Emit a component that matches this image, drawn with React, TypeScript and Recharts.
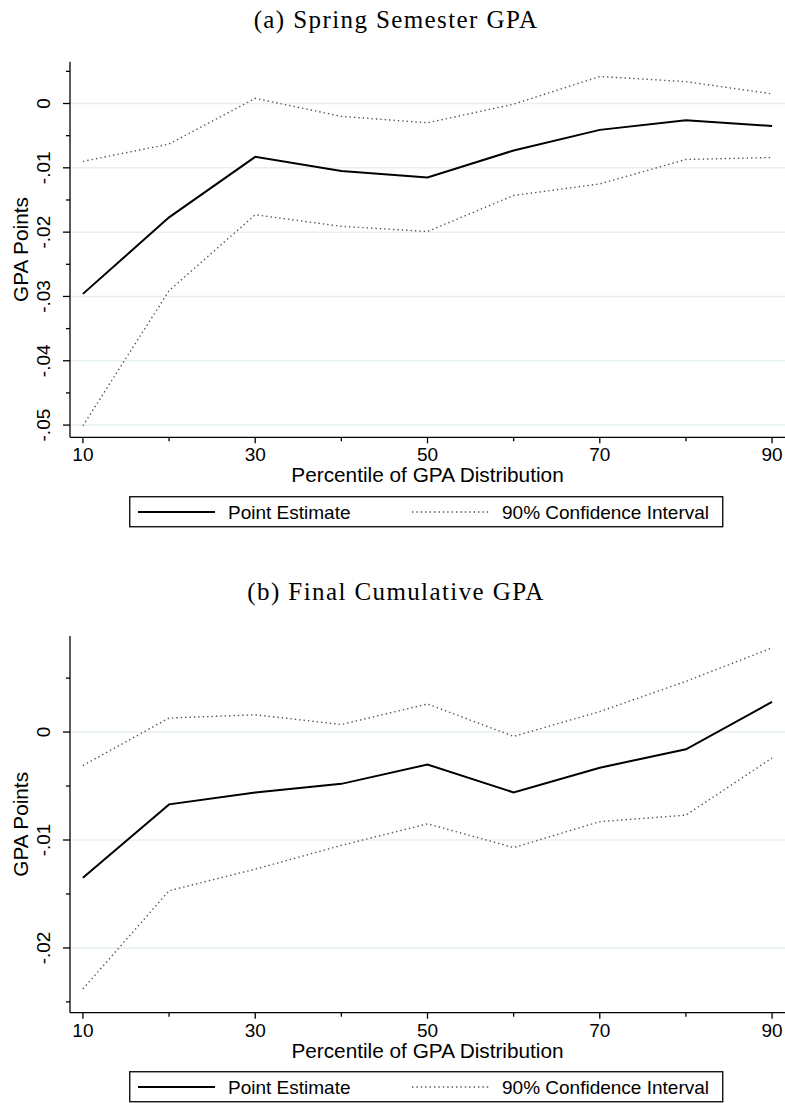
import React from 'react'
import { LineChart, Line, XAxis, YAxis, ReferenceLine, Label } from 'recharts'

const percentiles = [10, 20, 30, 40, 50, 60, 70, 80, 90]

// (a) Spring Semester GPA
const springEstimate = [-0.0296, -0.0177, -0.0083, -0.0105, -0.0115, -0.0073, -0.0041, -0.0026, -0.0035]
const springUpper = [-0.009, -0.0063, 0.0008, -0.002, -0.003, -0.0001, 0.0042, 0.0034, 0.0015]
const springLower = [-0.0501, -0.0291, -0.0173, -0.0191, -0.0199, -0.0143, -0.0125, -0.0087, -0.0084]

// (b) Final Cumulative GPA
const finalEstimate = [-0.0135, -0.0067, -0.0056, -0.0048, -0.003, -0.0056, -0.0033, -0.0016, 0.0028]
const finalUpper = [-0.0031, 0.0013, 0.0016, 0.0007, 0.0026, -0.0004, 0.0019, 0.0047, 0.0078]
const finalLower = [-0.0238, -0.0147, -0.0127, -0.0105, -0.0085, -0.0107, -0.0083, -0.0077, -0.0024]

const xTicks = [10, 20, 30, 40, 50, 60, 70, 80, 90]
const xLabelled = [10, 30, 50, 70, 90]
const springTicks = [0.005, 0, -0.005, -0.01, -0.015, -0.02, -0.025, -0.03, -0.035, -0.04, -0.045, -0.05]
const springGrid = [0, -0.01, -0.02, -0.03, -0.04, -0.05]
const finalTicks = [0.005, 0, -0.005, -0.01, -0.015, -0.02, -0.025]
const finalGrid = [0, -0.01, -0.02]

const legendLabels = ['Point Estimate', '90% Confidence Interval']
const titles = ['(a) Spring Semester GPA', '(b) Final Cumulative GPA']
const xTitle = 'Percentile of GPA Distribution'
const yTitle = 'GPA Points'

const SANS = '"Liberation Sans", Arial, sans-serif'
const SERIF = '"Liberation Serif", "Times New Roman", serif'
const TICK_FS = 19
const TITLE_FS = 20.8
const CI_COLOR = '#555'
const GRID_COLOR = '#e6eff1'

const fmtY = (v: number) => {
    if (v === 0) return '0'
    const s = String(Math.round(Math.abs(v) * 100)).padStart(2, '0')
    return (v < 0 ? '-.' : '.') + s
}

function YTick(props: any) {
    const { x, y, payload } = props
    const v = payload.value
    const major = Math.round(v * 1000) % 10 === 0
    return (
        <g>
            <line x1={x - (major ? 7 : 4)} x2={x} y1={y} y2={y} stroke="#000" strokeWidth={1.3} />
            {major && (
                <text
                    transform={`translate(${x - 20},${y}) rotate(-90)`}
                    textAnchor="middle"
                    fontSize={TICK_FS}
                    fontFamily={SANS}
                    fill="#000"
                >
                    {fmtY(v)}
                </text>
            )}
        </g>
    )
}

function XTick(props: any) {
    const { x, y, payload } = props
    const major = xLabelled.includes(payload.value)
    return (
        <g>
            <line x1={x} x2={x} y1={y} y2={y + (major ? 6 : 4)} stroke="#000" strokeWidth={1.3} />
            {major && (
                <text x={x} y={y + 24} textAnchor="middle" fontSize={TICK_FS} fontFamily={SANS} fill="#000">
                    {payload.value}
                </text>
            )}
        </g>
    )
}

interface PanelProps {
    top: number
    plotTop: number
    plotHeight: number
    estimate: number[]
    upper: number[]
    lower: number[]
    yDomain: [number, number]
    yTicks: number[]
    grid: number[]
}

function Panel({ top, plotTop, plotHeight, estimate, upper, lower, yDomain, yTicks, grid }: PanelProps) {
    const data = percentiles.map((p, i) => ({
        p,
        estimate: estimate[i],
        upper: upper[i],
        lower: lower[i]
    }))
    const axisH = 52.7
    return (
        <div style={{ position: 'absolute', left: 0, top }}>
            <LineChart
                width={785}
                height={plotTop + plotHeight + axisH}
                data={data}
                margin={{ top: plotTop, right: 0, left: 0, bottom: 0 }}
            >
                {grid.map((g) => (
                    <ReferenceLine key={g} y={g} stroke={GRID_COLOR} strokeWidth={1.5} />
                ))}
                <XAxis
                    dataKey="p"
                    type="number"
                    domain={[8.5, 91.5]}
                    ticks={xTicks}
                    interval={0}
                    height={axisH}
                    tickSize={0}
                    tickMargin={0}
                    tick={<XTick />}
                    axisLine={{ stroke: '#000', strokeWidth: 1.3 }}
                    tickLine={false}
                >
                    <Label
                        content={({ viewBox }: any) => (
                            <text
                                x={viewBox.x + viewBox.width / 2}
                                y={viewBox.y + 45}
                                textAnchor="middle"
                                fontSize={TITLE_FS}
                                fontFamily={SANS}
                                fill="#000"
                            >
                                {xTitle}
                            </text>
                        )}
                    />
                </XAxis>
                <YAxis
                    type="number"
                    domain={yDomain}
                    ticks={yTicks}
                    interval={0}
                    width={70}
                    tickSize={0}
                    tickMargin={0}
                    tick={<YTick />}
                    axisLine={{ stroke: '#000', strokeWidth: 1.3 }}
                    tickLine={false}
                    allowDataOverflow
                >
                    <Label
                        content={({ viewBox }: any) => (
                            <text
                                transform={`translate(28,${viewBox.y + viewBox.height / 2}) rotate(-90)`}
                                textAnchor="middle"
                                fontSize={TITLE_FS}
                                fontFamily={SANS}
                                fill="#000"
                            >
                                {yTitle}
                            </text>
                        )}
                    />
                </YAxis>
                <Line
                    type="linear"
                    dataKey="upper"
                    stroke={CI_COLOR}
                    strokeWidth={1.4}
                    strokeDasharray="1.4 3"
                    dot={false}
                    isAnimationActive={false}
                />
                <Line
                    type="linear"
                    dataKey="lower"
                    stroke={CI_COLOR}
                    strokeWidth={1.4}
                    strokeDasharray="1.4 3"
                    dot={false}
                    isAnimationActive={false}
                />
                <Line
                    type="linear"
                    dataKey="estimate"
                    stroke="#000"
                    strokeWidth={2}
                    dot={false}
                    isAnimationActive={false}
                />
            </LineChart>
        </div>
    )
}

function LegendBox({ top }: { top: number }) {
    return (
        <svg style={{ position: 'absolute', left: 129, top }} width={595} height={32}>
            <rect x={0.75} y={0.75} width={593} height={30} fill="#fff" stroke="#000" strokeWidth={1.3} />
            <line x1={9} x2={86} y1={16} y2={16} stroke="#000" strokeWidth={2} />
            <text x={99} y={22.5} fontSize={TICK_FS} fontFamily={SANS} fill="#000">
                {legendLabels[0]}
            </text>
            <line x1={283} x2={360} y1={16} y2={16} stroke={CI_COLOR} strokeWidth={1.4} strokeDasharray="1.4 3" />
            <text x={373} y={22.5} fontSize={TICK_FS} fontFamily={SANS} fill="#000">
                {legendLabels[1]}
            </text>
        </svg>
    )
}

function Title({ top, text }: { top: number; text: string }) {
    return (
        <div
            style={{
                position: 'absolute',
                left: 3.5,
                top,
                width: 785,
                textAlign: 'center',
                fontFamily: SERIF,
                fontSize: 25,
                lineHeight: '25px',
                letterSpacing: 1.4,
                color: '#000'
            }}
        >
            {text}
        </div>
    )
}

export default function App() {
    return (
        <div style={{ position: 'absolute', left: 0, top: 0, width: 785, height: 1103, background: '#fff' }}>
            <Title top={7} text={titles[0]} />
            <Panel
                top={0}
                plotTop={61.7}
                plotHeight={375.6}
                estimate={springEstimate}
                upper={springUpper}
                lower={springLower}
                yDomain={[-0.0519, 0.0065]}
                yTicks={springTicks}
                grid={springGrid}
            />
            <LegendBox top={496} />
            <Title top={579} text={titles[1]} />
            <Panel
                top={550}
                plotTop={86}
                plotHeight={376.7}
                estimate={finalEstimate}
                upper={finalUpper}
                lower={finalLower}
                yDomain={[-0.026, 0.0089]}
                yTicks={finalTicks}
                grid={finalGrid}
            />
            <LegendBox top={1070.7} />
        </div>
    )
}
